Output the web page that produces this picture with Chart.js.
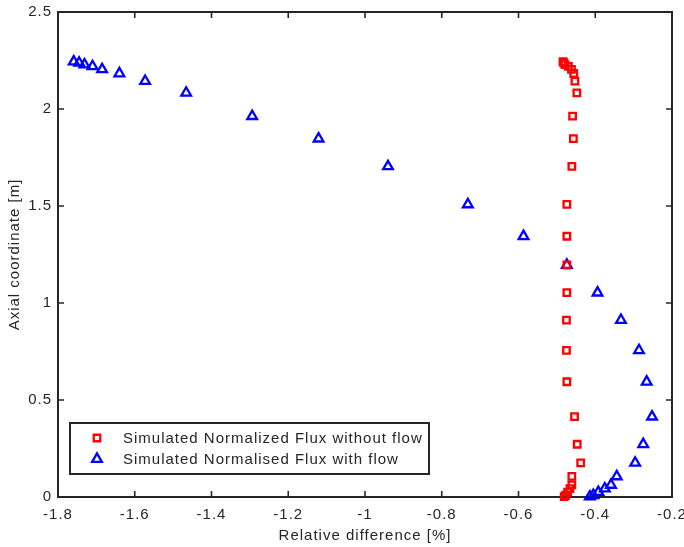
<!DOCTYPE html>
<html>
<head>
<meta charset="utf-8">
<script src="https://cdn.jsdelivr.net/npm/chart.js@4.4.1/dist/chart.umd.min.js"></script>
<style>
html,body{margin:0;padding:0;background:#ffffff;}
#wrap{width:684px;height:547px;}
</style>
</head>
<body>
<div id="wrap"><canvas id="c" width="684" height="547"></canvas></div>
<script>
// ---- data ----
const axialCoord = [2.244, 2.238, 2.229, 2.220, 2.204, 2.183, 2.144, 2.083, 1.963, 1.847, 1.704, 1.508, 1.344, 1.196, 1.053, 0.912, 0.756, 0.594, 0.414, 0.272, 0.176, 0.106, 0.062, 0.043, 0.025, 0.009, 0.002];
const diffNoFlow = [-0.484, -0.482, -0.479, -0.470, -0.462, -0.456, -0.453, -0.448, -0.459, -0.457, -0.461, -0.474, -0.474, -0.474, -0.474, -0.475, -0.475, -0.474, -0.454, -0.447, -0.438, -0.461, -0.461, -0.466, -0.472, -0.477, -0.481];
const diffWithFlow = [-1.759, -1.745, -1.731, -1.710, -1.685, -1.640, -1.573, -1.466, -1.294, -1.121, -0.940, -0.732, -0.587, -0.474, -0.394, -0.333, -0.286, -0.266, -0.252, -0.275, -0.296, -0.344, -0.359, -0.375, -0.392, -0.405, -0.414];
const seriesLabels = ['Simulated Normalized Flux without flow', 'Simulated Normalised Flux with flow'];
const xTicks = [-1.8, -1.6, -1.4, -1.2, -1, -0.8, -0.6, -0.4, -0.2];
const yTicks = [0, 0.5, 1, 1.5, 2, 2.5];
const xTitle = 'Relative difference [%]';
const yTitle = 'Axial coordinate [m]';

const INK = '#262626';
const FONT = "'Liberation Sans', Arial, Helvetica, sans-serif";

Chart.defaults.font.family = FONT;
Chart.defaults.font.size = 15;
Chart.defaults.color = INK;

function pts(xs) { return xs.map((x, i) => ({ x: x, y: axialCoord[i] })); }
function fmt(v) { return String(Math.round(v * 10) / 10); }

const spacingPlugin = {
  id: 'spacing',
  beforeLayout(chart) { chart.ctx.letterSpacing = '1px'; },
  beforeDraw(chart) { chart.ctx.letterSpacing = '1px'; }
};

const framePlugin = {
  id: 'frame',
  beforeDatasetsDraw(chart) {
    const ctx = chart.ctx, a = chart.chartArea;
    const xs = chart.scales.x, ys = chart.scales.y;
    const tl = 6;
    ctx.save();
    ctx.strokeStyle = INK;
    ctx.lineWidth = 1.6;
    ctx.beginPath();
    xTicks.forEach(v => {
      const p = xs.getPixelForValue(v);
      ctx.moveTo(p, a.bottom); ctx.lineTo(p, a.bottom - tl);
      ctx.moveTo(p, a.top); ctx.lineTo(p, a.top + tl);
    });
    yTicks.forEach(v => {
      const p = ys.getPixelForValue(v);
      ctx.moveTo(a.left, p); ctx.lineTo(a.left + tl, p);
      ctx.moveTo(a.right, p); ctx.lineTo(a.right - tl, p);
    });
    ctx.stroke();
    ctx.lineWidth = 2;
    ctx.strokeRect(a.left, a.top, a.right - a.left, a.bottom - a.top);
    ctx.restore();
  }
};

const legendPlugin = {
  id: 'boxLegend',
  afterDatasetsDraw(chart) {
    const ctx = chart.ctx, a = chart.chartArea;
    const bx = a.left + 12, bw = 359, bh = 51, by = a.bottom - 23 - bh;
    ctx.save();
    ctx.fillStyle = '#ffffff';
    ctx.fillRect(bx, by, bw, bh);
    ctx.strokeStyle = INK;
    ctx.lineWidth = 2;
    ctx.strokeRect(bx, by, bw, bh);
    ctx.font = '15px ' + FONT;
    ctx.letterSpacing = '1px';
    ctx.textBaseline = 'middle';
    ctx.textAlign = 'left';
    chart.data.datasets.forEach((ds, i) => {
      const cy = by + 15 + i * 21;
      ctx.strokeStyle = ds.borderColor;
      ctx.fillStyle = 'rgba(0,0,0,0)';
      ctx.lineWidth = ds.borderWidth;
      Chart.helpers.drawPoint(ctx, { pointStyle: ds.pointStyle, rotation: 0, radius: ds.pointRadius, borderWidth: ds.borderWidth }, bx + 27, cy);
      ctx.fillStyle = INK;
      ctx.fillText(ds.label, bx + 53, cy + 1);
    });
    ctx.restore();
  }
};

new Chart(document.getElementById('c'), {
  type: 'scatter',
  data: {
    datasets: [
      {
        label: seriesLabels[0],
        data: pts(diffNoFlow),
        pointStyle: 'rect',
        pointRadius: 4.6,
        borderWidth: 2.3,
        borderColor: '#ff0000',
        backgroundColor: 'rgba(0,0,0,0)',
        clip: false
      },
      {
        label: seriesLabels[1],
        data: pts(diffWithFlow),
        pointStyle: 'triangle',
        pointRadius: 5.6,
        borderWidth: 2.3,
        borderColor: '#0000ff',
        backgroundColor: 'rgba(0,0,0,0)',
        clip: false
      }
    ]
  },
  options: {
    responsive: false,
    animation: false,
    devicePixelRatio: 1,
    layout: { padding: { top: 12, right: 12, left: 0, bottom: 0 } },
    plugins: { legend: { display: false }, tooltip: { enabled: false } },
    scales: {
      x: {
        type: 'linear',
        min: -1.8, max: -0.2,
        afterBuildTicks: s => { s.ticks = xTicks.map(v => ({ value: v })); },
        afterFit: s => { s.height = 50; s.paddingLeft = 0; s.paddingRight = 0; },
        grid: { display: false, drawTicks: false },
        border: { display: false },
        ticks: { callback: v => fmt(v), maxRotation: 0, autoSkip: false, padding: 9, color: INK },
        title: { display: true, text: xTitle, color: INK, padding: { top: 0, bottom: 2 } }
      },
      y: {
        type: 'linear',
        min: 0, max: 2.5,
        afterBuildTicks: s => { s.ticks = yTicks.map(v => ({ value: v })); },
        afterFit: s => { s.width = 58; s.paddingTop = 0; s.paddingBottom = 0; },
        grid: { display: false, drawTicks: false },
        border: { display: false },
        ticks: { callback: v => fmt(v), autoSkip: false, padding: 6, color: INK },
        title: { display: true, text: yTitle, color: INK, padding: { top: 6, bottom: 0 } }
      }
    }
  },
  plugins: [spacingPlugin, framePlugin, legendPlugin]
});
</script>
</body>
</html>
